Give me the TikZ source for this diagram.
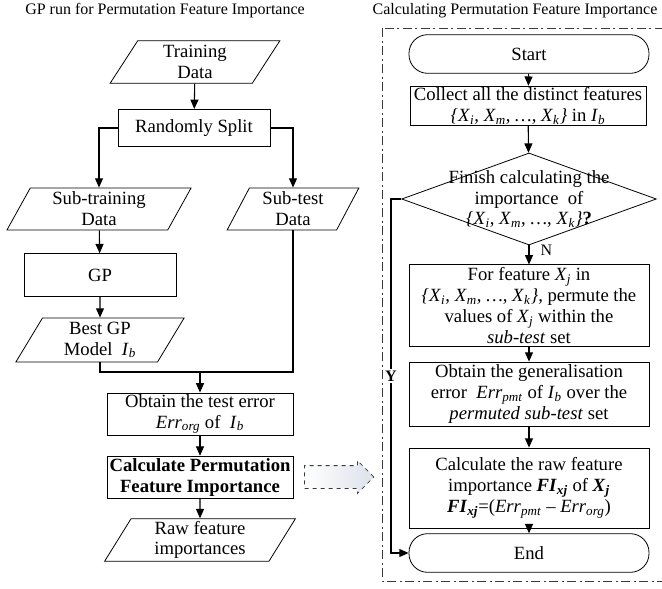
\documentclass[tikz,border=0pt]{standalone}
\usepackage{fontspec}
\setmainfont{Liberation Serif}
\usetikzlibrary{arrows.meta,positioning,calc,shapes.geometric,shapes.arrows}
\definecolor{Ink}{HTML}{000000}
\definecolor{Frame}{HTML}{3A3A3A}
\definecolor{Mist}{HTML}{DCE1EB}
\newcommand{\xv}[1]{\textit{X}\textsubscript{\textit{#1}}}
\newcommand{\xset}{\textit{\{}\xv{i}, \xv{m}, \textit{\dots}, \xv{k}\textit{\}}}
\newcommand{\ib}{\textit{I}\textsubscript{\textit{b}}}
\newcommand{\errv}[1]{\textit{Err}\textsubscript{\textit{#1}}}
\newcommand{\fixj}{\textbf{\textit{FI}\textsubscript{\textit{xj}}}}

\begin{document}
\begin{tikzpicture}[x=0.75pt, y=-0.75pt,
    every node/.style={align=center, font=\fontsize{14}{15.6}\selectfont},
    title/.style={font=\fontsize{12}{14}\selectfont},
    proc/.style={draw=Ink, line width=0.6pt, rectangle, inner sep=1pt},
    io/.style={draw=Ink, line width=0.6pt, trapezium, trapezium left angle=66, trapezium right angle=114, trapezium stretches=true, inner sep=1pt},
    term/.style={draw=Ink, line width=0.6pt, rectangle, rounded corners=14pt, minimum width=180pt, minimum height=29pt},
    decision/.style={draw=Ink, line width=0.6pt, diamond, aspect=2.6, inner sep=-25pt, minimum width=191pt, minimum height=69pt},
    fadearrow/.style={single arrow, draw=Frame, dashed, line width=0.6pt, left color=white, right color=Mist, inner xsep=0pt, inner ysep=8.25pt, single arrow head extend=3.75pt, minimum height=52pt},
    line/.style={draw=Ink, line width=0.8pt},
    arr/.style={line, -{Triangle[length=7pt, width=6pt]}}]
  \useasboundingbox (0,0) rectangle (662,589);

  % titles
  \node[title] (ltitle) at (165,11) {GP run for Permutation Feature Importance};
  \node[title] (rtitle) at (515,11) {Calculating Permutation Feature Importance};

  % GP run
  \node[io, minimum width=128pt, minimum height=32pt] (train) at (195,62) {Training\\Data};
  \node[proc, minimum width=114pt, minimum height=28pt] (split) at (194,128) {Randomly Split};
  \node[io, minimum width=139pt, minimum height=31.5pt] (subtrain) at (99,209) {Sub-training\\Data};
  \node[io, minimum width=99pt, minimum height=31.5pt] (subtest) at (293,209) {Sub-test\\Data};
  \node[proc, minimum width=114pt, minimum height=32pt] (gp) at (100,275) {GP};
  \node[io, minimum width=127pt, minimum height=33pt] (best) at (100,340) {Best GP\\Model~~\ib};
  \coordinate (join) at (200,372);
  \node[proc, minimum width=139.5pt, minimum height=31.5pt] (testerr) at (200,414) {Obtain the test error\\\errv{org} of~~\ib};
  \node[proc, minimum width=139.5pt, minimum height=32pt, font=\fontsize{14}{15.6}\selectfont\bfseries] (calcpfi) at (200,477.5) {Calculate Permutation\\Feature Importance};
  \node[io, minimum width=144pt, minimum height=32pt] (raw) at (200,540) {Raw feature\\importances};
  \node[fadearrow, minimum width=24pt] (hint) at (333.5,477) {};

  % calculating permutation feature importance
  \draw[Frame, line width=0.6pt, dash pattern=on 7pt off 2.5pt on 1.5pt off 2.5pt] (382,28) rectangle (672,581);
  \node[term] (start) at (529,54) {Start};
  \node[proc, minimum width=177pt, minimum height=28.5pt] (collect) at (528,106) {Collect all the distinct features\\\xset{} in \ib};
  \node[decision] (finish) at (529,199) {Finish calculating the\\importance~~of\\\xset\textbf{?}};
  \node[proc, minimum width=180pt, minimum height=61pt] (permute) at (529,305.5) {For feature \xv{j} in\\\xset, permute the\\values of \xv{j} within the\\\textit{sub-test} set};
  \node[proc, minimum width=180pt, minimum height=48pt] (generr) at (529,394) {Obtain the generalisation\\error~~\errv{pmt} of \ib{} over the\\\textit{permuted sub-test} set};
  \node[proc, minimum width=180pt, minimum height=60pt] (rawfi) at (529,488) {Calculate the raw feature\\importance \fixj{} of \textbf{\textit{X}\textsubscript{\textit{j}}}\\\fixj=(\errv{pmt} -- \errv{org})};
  \node[term] (stop) at (529,553) {End};

  \draw[arr] (train) -- (split);
  \draw[arr] (split.west) -| (subtrain.north);
  \draw[arr] (split.east) -| (subtest.north);
  \draw[arr] (subtrain) -- (gp);
  \draw[arr] (gp) -- (best);
  \draw[line] (best.south) |- (join);
  \draw[line] (subtest.south) |- (join);
  \draw[arr] (join) -- (testerr);
  \draw[arr] (testerr) -- (calcpfi);
  \draw[arr] (calcpfi) -- (raw);

  \draw[arr] (start) -- (collect);
  \draw[arr] (collect) -- (finish);
  \draw[arr] (finish) -- node[near start, right=5pt, font=\fontsize{12}{14}\selectfont] {N} (permute);
  \draw[arr] (permute) -- (generr);
  \draw[arr] (generr) -- (rawfi);
  \draw[arr] (rawfi) -- (stop);
  \draw[arr] (finish.west) -- (391,199) |- node[pos=0.25, fill=white, inner sep=1pt, font=\fontsize{12}{14}\selectfont\bfseries] {Y} (stop.west);
\end{tikzpicture}
\end{document}
